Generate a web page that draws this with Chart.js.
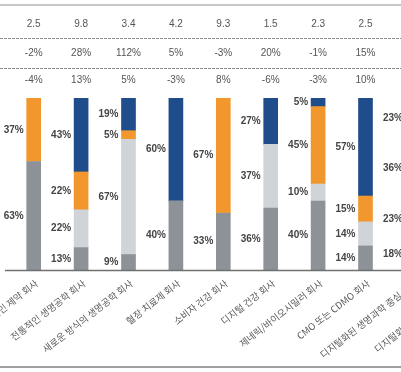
<!DOCTYPE html>
<html>
<head>
<meta charset="utf-8">
<script src="https://cdn.jsdelivr.net/npm/chart.js@4.4.1/dist/chart.umd.min.js"></script>
<style>
  body { margin: 0; background: #fff; overflow: hidden; }
  #wrap { position: relative; width: 484px; height: 372px; }
</style>
</head>
<body>
<div id="wrap"><canvas id="myChart"></canvas></div>
<script>
// categories (the chart is cropped: first label and last two bars run off the edge)
var categories = [
    '전통적인 제약 회사',
    '전통적인 생명공학 회사',
    '새로운 방식의 생명공학 회사',
    '혈장 치료제 회사',
    '소비자 건강 회사',
    '디지털 건강 회사',
    '제네릭/바이오시밀러 회사',
    'CMO 또는 CDMO 회사',
    '디지털화된 생명과학 중심 회사',
    '디지털화된 의료 서비스 회사'
];

// stacked shares, bottom to top (%)
var darkGray  = [63, 13,  9, 40, 33, 36, 40, 14, 18, null];
var lightGray = [ 0, 22, 67,  0,  0, 37, 10, 14, 23, null];
var orange    = [37, 22,  5,  0, 67,  0, 45, 15, 36, null];
var navy      = [ 0, 43, 19, 60,  0, 27,  5, 57, 23, null];

// table rows above the bars
var row1 = ['2.5', '9.8', '3.4', '4.2', '9.3', '1.5', '2.3', '2.5', null, null];
var row2 = ['-2%', '28%', '112%', '5%', '-3%', '20%', '-1%', '15%', null, null];
var row3 = ['-4%', '13%', '5%', '-3%', '8%', '-6%', '-3%', '10%', null, null];

var tablePlugin = {
    id: 'table',
    afterDraw: function(chart){
        var ctx = chart.ctx;
        var x = chart.scales.x;
        var W = chart.width;
        ctx.save();

        // top rule
        ctx.strokeStyle = '#b4b4b4';
        ctx.lineWidth = 1.5;
        ctx.beginPath(); ctx.moveTo(0, 5); ctx.lineTo(W, 5); ctx.stroke();

        // dashed separators
        ctx.strokeStyle = '#8a8a8a';
        ctx.lineWidth = 1;
        ctx.setLineDash([3, 1]);
        [38.5, 68.5].forEach(function(y){
            ctx.beginPath(); ctx.moveTo(0, y); ctx.lineTo(W, y); ctx.stroke();
        });
        ctx.setLineDash([]);

        // row values
        ctx.fillStyle = '#555';
        ctx.font = '10px "Liberation Sans", Arial, sans-serif';
        ctx.textAlign = 'center';
        ctx.textBaseline = 'middle';
        [[row1, 24], [row2, 53], [row3, 80]].forEach(function(r){
            r[0].forEach(function(v, i){
                if (v === null) return;
                ctx.fillText(v, x.getPixelForValue(i), r[1]);
            });
        });

        // baseline
        var base = chart.chartArea.bottom;
        ctx.strokeStyle = '#707070';
        ctx.lineWidth = 1.5;
        ctx.beginPath(); ctx.moveTo(5, base + 0.5); ctx.lineTo(W, base + 0.5); ctx.stroke();

        // bottom rule
        ctx.strokeStyle = '#a0a0a0';
        ctx.lineWidth = 2;
        ctx.beginPath(); ctx.moveTo(0, 367); ctx.lineTo(W, 367); ctx.stroke();

        // rotated category labels
        ctx.fillStyle = '#5a5a5a';
        ctx.font = '9.5px "Noto Sans CJK KR", sans-serif';
        ctx.textAlign = 'right';
        ctx.textBaseline = 'middle';
        categories.forEach(function(c, i){
            ctx.save();
            ctx.translate(x.getPixelForValue(i) + 3, base + 12);
            ctx.rotate(-38 * Math.PI / 180);
            ctx.fillText(c, 0, 0);
            ctx.restore();
        });

        // segment labels, left of each bar
        ctx.fillStyle = '#444';
        ctx.font = 'bold 10px "Liberation Sans", Arial, sans-serif';
        ctx.textAlign = 'right';
        chart.data.datasets.forEach(function(ds, di){
            var meta = chart.getDatasetMeta(di);
            meta.data.forEach(function(el, i){
                var v = ds.data[i];
                if (!v) return;
                ctx.fillText(v + '%', el.x - el.width / 2 - 3, (el.y + el.base) / 2);
            });
        });
        ctx.restore();
    }
};

function createChart(){
    var ctx = document.getElementById('myChart').getContext('2d');
    new Chart(ctx, {
        type: 'bar',
        data: {
            labels: categories,
            datasets: [
                { label: 'dark', data: darkGray, backgroundColor: '#8d9298' },
                { label: 'light', data: lightGray, backgroundColor: '#d0d3d8' },
                { label: 'orange', data: orange, backgroundColor: '#f1972d' },
                { label: 'navy', data: navy, backgroundColor: '#1f4d8b' }
            ]
        },
        options: {
            responsive: true,
            maintainAspectRatio: false,
            animation: false,
            layout: { padding: { left: 10, right: 0, top: 98, bottom: 102 } },
            datasets: { bar: { barThickness: 14, borderWidth: 0 } },
            plugins: { legend: { display: false }, tooltip: { enabled: false } },
            scales: {
                x: { stacked: true, display: false },
                y: { stacked: true, display: false, min: 0, max: 100 }
            }
        },
        plugins: [tablePlugin]
    });
}

createChart();
</script>
</body>
</html>
